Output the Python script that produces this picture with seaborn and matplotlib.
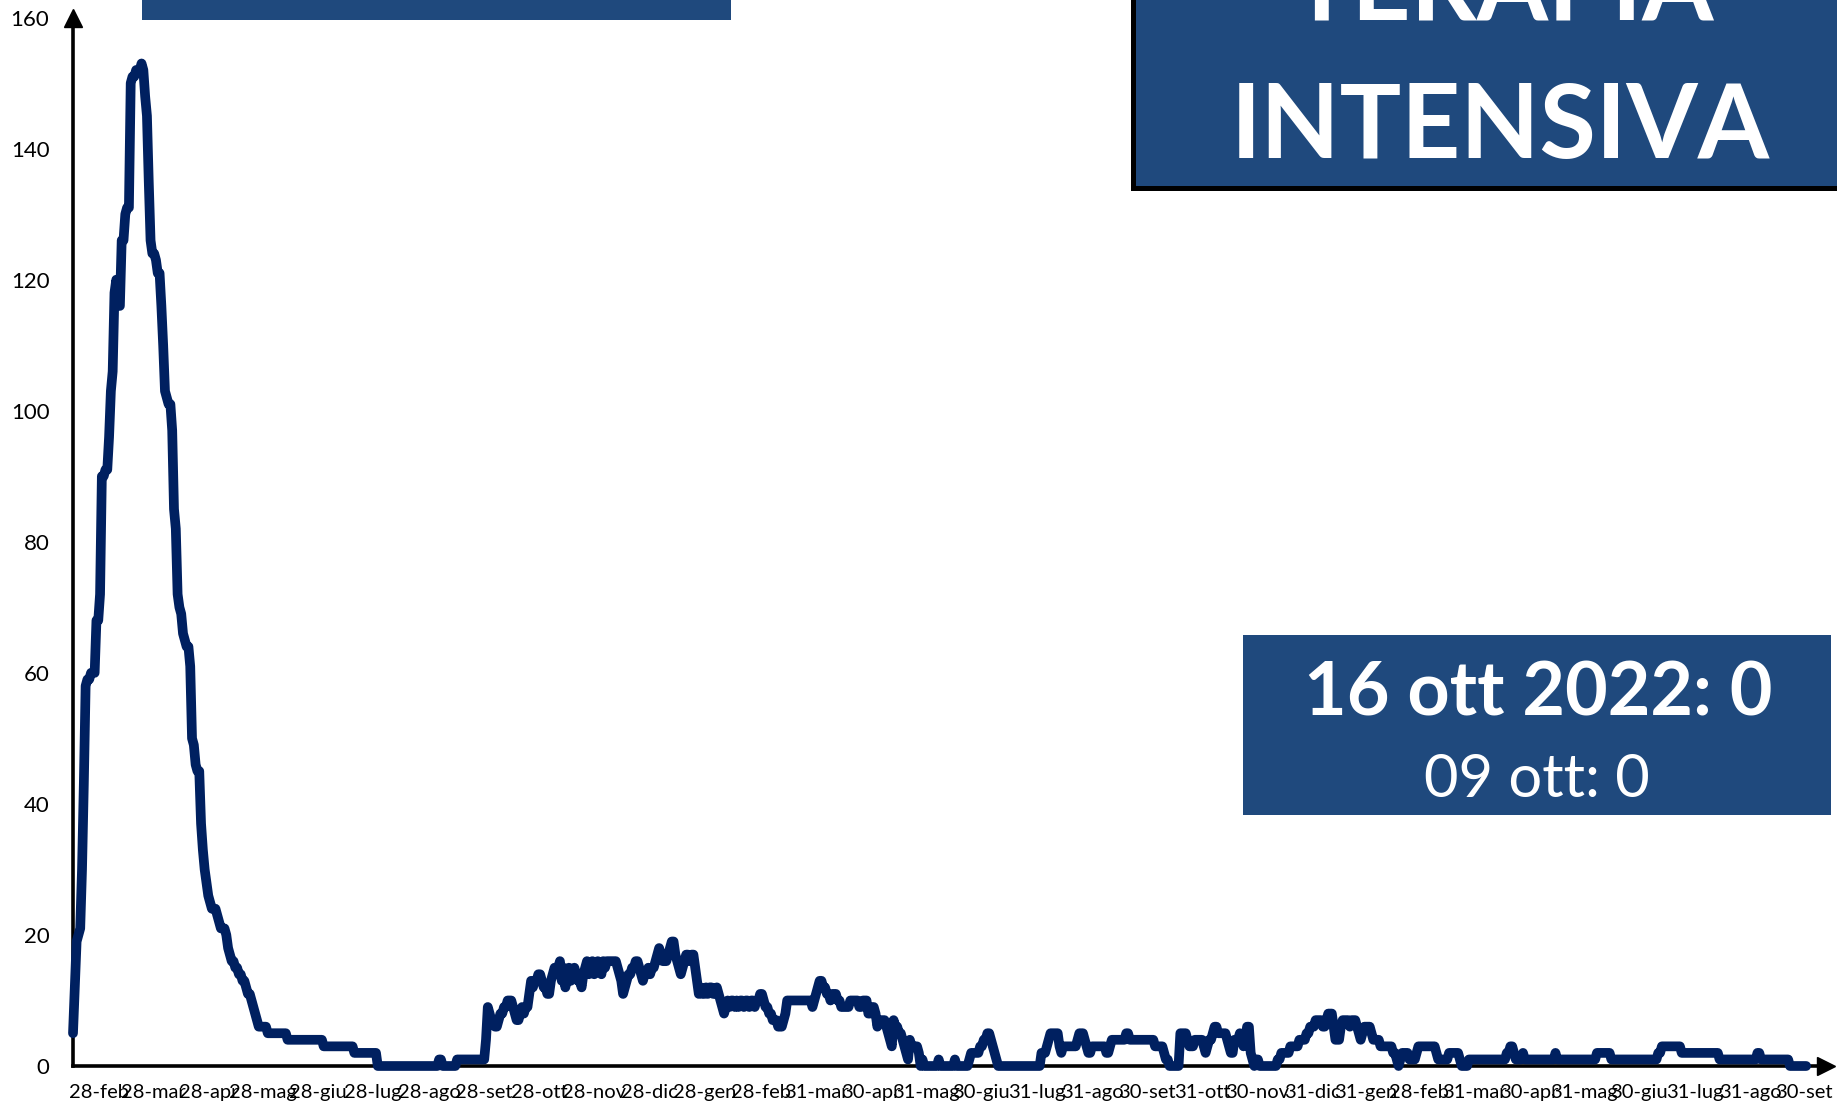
import pandas as pd
import matplotlib
matplotlib.use("Agg")
import matplotlib.pyplot as plt
import matplotlib.dates as mdates
from matplotlib.patches import Rectangle
import seaborn as sns

# ricoverati in terapia intensiva, un valore al giorno dal 28 feb 2020
icu_2020 = [
    5, 12, 19, 20, 21, 30, 43, 58, 59, 59,
    60, 60, 60, 68, 68, 72, 90, 90, 91, 91,
    96, 103, 106, 118, 120, 116, 116, 126, 126, 130,
    131, 131, 150, 151, 151, 152, 152, 152, 153, 152,
    148, 145, 135, 126, 124, 124, 123, 121, 121, 116,
    110, 103, 102, 101, 101, 97, 85, 82, 72, 70,
    69, 66, 65, 64, 64, 61, 50, 49, 46, 45,
    45, 37, 33, 30, 28, 26, 25, 24, 24, 24,
    23, 22, 21, 21, 21, 20, 18, 17, 16, 16,
    15, 15, 14, 14, 13, 13, 12, 11, 11, 10,
    9, 8, 7, 6, 6, 6, 6, 6, 5, 5,
    5, 5, 5, 5, 5, 5, 5, 5, 5, 4,
    4, 4, 4, 4, 4, 4, 4, 4, 4, 4,
    4, 4, 4, 4, 4, 4, 4, 4, 4, 3,
    3, 3, 3, 3, 3, 3, 3, 3, 3, 3,
    3, 3, 3, 3, 3, 3, 2, 2, 2, 2,
    2, 2, 2, 2, 2, 2, 2, 2, 2, 0,
    0, 0, 0, 0, 0, 0, 0, 0, 0, 0,
    0, 0, 0, 0, 0, 0, 0, 0, 0, 0,
    0, 0, 0, 0, 0, 0, 0, 0, 0, 0,
    0, 0, 0, 1, 1, 0, 0, 0, 0, 0,
    0, 0, 0, 1, 1, 1, 1, 1, 1, 1,
    1, 1, 1, 1, 1, 1, 1, 1, 1, 4,
    9, 8, 7, 7, 6, 6, 7, 8, 8, 9,
    9, 10, 10, 10, 9, 8, 7, 7, 8, 9,
    8, 9, 9, 11, 13, 12, 13, 13, 14, 14,
    13, 12, 12, 11, 11, 13, 14, 15, 14, 15,
    16, 13, 15, 12, 14, 15, 13, 14, 15, 14,
    13, 13, 12, 14, 15, 16, 14, 15, 16, 14,
    15, 16, 15, 14, 16, 15, 16, 16, 16, 16,
    16, 16, 15, 14, 13, 11, 12, 13,
]
icu_2021 = [
    14, 14,
    15, 15, 16, 16, 15, 14, 13, 14, 14, 15,
    14, 15, 15, 16, 17, 18, 17, 16, 16, 16,
    17, 18, 19, 19, 17, 16, 15, 14, 15, 16,
    17, 17, 16, 17, 17, 15, 13, 11, 12, 11,
    11, 12, 11, 12, 12, 11, 11, 12, 11, 10,
    9, 8, 9, 10, 9, 10, 10, 9, 10, 9,
    10, 10, 9, 10, 10, 9, 10, 10, 9, 10,
    10, 11, 11, 10, 9, 9, 8, 8, 7, 7,
    7, 6, 6, 6, 7, 8, 10, 10, 10, 10,
    10, 10, 10, 10, 10, 10, 10, 10, 10, 10,
    9, 10, 11, 12, 13, 13, 12, 12, 11, 11,
    10, 11, 11, 11, 10, 10, 9, 9, 9, 9,
    9, 10, 10, 10, 10, 10, 9, 9, 10, 10,
    10, 8, 8, 9, 9, 8, 6, 7, 7, 7,
    7, 6, 5, 4, 3, 7, 6, 6, 5, 5,
    4, 3, 2, 1, 4, 3, 3, 3, 3, 2,
    0, 1, 0, 0, 0, 0, 0, 0, 0, 0,
    1, 0, 0, 0, 0, 0, 0, 0, 0, 1,
    0, 0, 0, 0, 0, 0, 0, 1, 2, 2,
    2, 2, 2, 3, 3, 4, 4, 5, 5, 4,
    3, 2, 1, 0, 0, 0, 0, 0, 0, 0,
    0, 0, 0, 0, 0, 0, 0, 0, 0, 0,
    0, 0, 0, 0, 0, 0, 0, 2, 2, 2,
    3, 4, 5, 5, 5, 5, 5, 3, 2, 3,
    3, 3, 3, 3, 3, 3, 3, 4, 5, 5,
    5, 4, 3, 2, 2, 3, 3, 3, 3, 3,
    3, 3, 3, 2, 2, 3, 4, 4, 4, 4,
    4, 4, 4, 4, 5, 5, 4, 4, 4, 4,
    4, 4, 4, 4, 4, 4, 4, 4, 4, 4,
    3, 3, 3, 3, 3, 2, 1, 1, 0, 0,
    0, 0, 0, 0, 5, 5, 5, 5, 4, 3,
    3, 3, 4, 4, 4, 4, 4, 3, 2, 3,
    4, 4, 5, 6, 6, 5, 5, 5, 5, 5,
    4, 3, 2, 2, 4, 4, 4, 5, 4, 3,
    4, 6, 6, 2, 1, 0, 1, 1, 0, 0,
    0, 0, 0, 0, 0, 0, 0, 0, 1, 1,
    2, 2, 2,
]
icu_2022 = [
    2, 2, 3, 3, 3, 3, 3,
    4, 4, 4, 4, 5, 5, 6, 6, 6, 7,
    7, 7, 7, 6, 6, 7, 8, 8, 8, 6,
    4, 4, 4, 6, 7, 7, 7, 7, 6, 7,
    7, 7, 6, 5, 4, 5, 6, 6, 6, 6,
    5, 4, 4, 4, 4, 3, 3, 3, 3, 3,
    3, 3, 2, 2, 1, 0, 1, 2, 2, 2,
    2, 1, 1, 1, 1, 2, 3, 3, 3, 3,
    3, 3, 3, 3, 3, 3, 2, 1, 1, 1,
    1, 1, 1, 2, 2, 2, 2, 2, 2, 1,
    0, 0, 0, 0, 1, 1, 1, 1, 1, 1,
    1, 1, 1, 1, 1, 1, 1, 1, 1, 1,
    1, 1, 1, 1, 1, 2, 2, 3, 3, 2,
    1, 1, 1, 1, 2, 1, 1, 1, 1, 1,
    1, 1, 1, 1, 1, 1, 1, 1, 1, 1,
    1, 1, 2, 1, 1, 1, 1, 1, 1, 1,
    1, 1, 1, 1, 1, 1, 1, 1, 1, 1,
    1, 1, 1, 1, 1, 2, 2, 2, 2, 2,
    2, 2, 2, 1, 1, 1, 1, 1, 1, 1,
    1, 1, 1, 1, 1, 1, 1, 1, 1, 1,
    1, 1, 1, 1, 1, 1, 1, 1, 1, 2,
    2, 3, 3, 3, 3, 3, 3, 3, 3, 3,
    3, 3, 2, 2, 2, 2, 2, 2, 2, 2,
    2, 2, 2, 2, 2, 2, 2, 2, 2, 2,
    2, 2, 2, 1, 1, 1, 1, 1, 1, 1,
    1, 1, 1, 1, 1, 1, 1, 1, 1, 1,
    1, 1, 1, 1, 2, 2, 1, 1, 1, 1,
    1, 1, 1, 1, 1, 1, 1, 1, 1, 1,
    1, 1, 0, 0, 0, 0, 0, 0, 0, 0,
    0, 0,
]
primo_giorno = "2020-02-28"

tick_dates = [
    "2020-02-28", "2020-03-28", "2020-04-28", "2020-05-28", "2020-06-28",
    "2020-07-28", "2020-08-28", "2020-09-28", "2020-10-28", "2020-11-28",
    "2020-12-28", "2021-01-28", "2021-02-28", "2021-03-31", "2021-04-30",
    "2021-05-31", "2021-06-30", "2021-07-31", "2021-08-31", "2021-09-30",
    "2021-10-31", "2021-11-30", "2021-12-31", "2022-01-31", "2022-02-28",
    "2022-03-31", "2022-04-30", "2022-05-31", "2022-06-30", "2022-07-31",
    "2022-08-31", "2022-09-30",
]
tick_labels = [
    "28-feb", "28-mar", "28-apr", "28-mag", "28-giu", "28-lug", "28-ago",
    "28-set", "28-ott", "28-nov", "28-dic", "28-gen", "28-feb", "31-mar",
    "30-apr", "31-mag", "30-giu", "31-lug", "31-ago", "30-set", "31-ott",
    "30-nov", "31-dic", "31-gen", "28-feb", "31-mar", "30-apr", "31-mag",
    "30-giu", "31-lug", "31-ago", "30-set",
]
titolo = ["TERAPIA", "INTENSIVA"]
ultimo_valore = "16 ott 2022: 0"
valore_precedente = "09 ott: 0"

blu_box = "#1F497D"
blu_linea = "#002060"

sns.set_style("white")
plt.rcParams["font.family"] = ["Lato", "DejaVu Sans"]

valori = icu_2020 + icu_2021 + icu_2022
df = pd.DataFrame({
    "data": pd.date_range(primo_giorno, periods=len(valori), freq="D"),
    "ricoverati": valori,
})

W, H = 1837, 1105
fig = plt.figure(figsize=(W / 100, H / 100), dpi=100)
ax = fig.add_axes([73 / W, 1 - 1066 / H, (1826 - 73) / W, (1066 - 17.6) / H])

sns.lineplot(data=df, x="data", y="ricoverati", ax=ax, color=blu_linea,
             linewidth=7, solid_joinstyle="round", solid_capstyle="round",
             clip_on=False, zorder=3)

x0 = mdates.date2num(df["data"].iloc[0])
ax.set_xlim(x0, x0 + 972)
ax.set_ylim(0, 160)
ax.set_yticks(range(0, 161, 20))

# tacche sulle date, etichette a meta' tra una tacca e la successiva
ticks = mdates.date2num(pd.to_datetime(tick_dates))
ax.set_xticks(ticks)
ax.set_xticklabels([""] * len(ticks))
mids = list((ticks[:-1] + ticks[1:]) / 2) + [ticks[-1] + (ticks[-1] - ticks[-2]) / 2]
ax.set_xticks(mids, minor=True)
ax.set_xticklabels(tick_labels, minor=True)

ax.set_xlabel("")
ax.set_ylabel("")
sns.despine(ax=ax)
for s in ["left", "bottom"]:
    ax.spines[s].set_linewidth(2.6)
    ax.spines[s].set_color("black")
ax.tick_params(axis="x", which="major", length=4.5, width=2.4, color="black", direction="out")
ax.tick_params(axis="x", which="minor", length=0, pad=13, labelsize=14.5, labelcolor="black")
ax.tick_params(axis="y", length=5, width=2.4, color="black", direction="out", pad=12,
               labelsize=16, labelcolor="black")

# frecce in fondo agli assi
ax.plot(1, 0, ">", color="black", ms=13, transform=ax.transAxes, clip_on=False)
ax.plot(0, 1, "^", color="black", ms=13, transform=ax.transAxes, clip_on=False)


def fx(x):
    return x / W


def fy(y):
    return 1 - y / H


# riquadro in alto a sinistra (tagliato)
fig.add_artist(Rectangle((fx(142), fy(20)), (731 - 142) / W, 30 / H,
                         transform=fig.transFigure, facecolor=blu_box, edgecolor="none"))

# riquadro titolo
fig.add_artist(Rectangle((fx(1132.5), fy(187.5)), (1860 - 1132.5) / W, 220 / H,
                         transform=fig.transFigure, facecolor=blu_box,
                         edgecolor="black", linewidth=3.6))
fig.text(fx(1502), fy(20), titolo[0], ha="center", va="baseline",
         fontsize=74, fontweight="bold", color="white")
fig.text(fx(1500), fy(158), titolo[1], ha="center", va="baseline",
         fontsize=74, fontweight="bold", color="white")

# riquadro ultimo dato
fig.add_artist(Rectangle((fx(1243), fy(815)), (1831 - 1243) / W, (815 - 635) / H,
                         transform=fig.transFigure, facecolor=blu_box, edgecolor="none"))
fig.text(fx(1538), fy(715), ultimo_valore, ha="center", va="baseline",
         fontsize=53, fontweight="bold", color="white")
fig.text(fx(1537), fy(797), valore_precedente, ha="center", va="baseline",
         fontsize=43, color="white")

fig.savefig("out.png", dpi=100)
